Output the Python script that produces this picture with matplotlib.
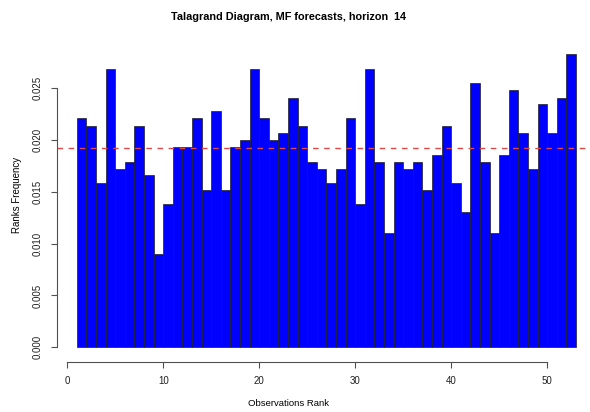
import matplotlib
matplotlib.use("Agg")
import matplotlib.pyplot as plt
import numpy as np

# rank frequencies (ranks 1..52)
ranks = np.arange(1, 53)
freq = [0.0221, 0.0214, 0.0159, 0.0269, 0.0172, 0.0179, 0.0214, 0.0166,
        0.0090, 0.0138, 0.0193, 0.0193, 0.0221, 0.0152, 0.0228, 0.0152,
        0.0193, 0.0200, 0.0269, 0.0221, 0.0200, 0.0207, 0.0241, 0.0214,
        0.0179, 0.0172, 0.0159, 0.0172, 0.0221, 0.0138, 0.0269, 0.0179,
        0.0110, 0.0179, 0.0172, 0.0179, 0.0152, 0.0186, 0.0214, 0.0159,
        0.0131, 0.0255, 0.0179, 0.0110, 0.0186, 0.0248, 0.0207, 0.0172,
        0.0235, 0.0207, 0.0241, 0.0283]
expected = 1.0 / 52
xticks = [0, 10, 20, 30, 40, 50]
yticks = [0.000, 0.005, 0.010, 0.015, 0.020, 0.025]

plt.rcParams['font.family'] = ['Liberation Sans', 'DejaVu Sans']

fig = plt.figure(figsize=(5.9, 4.12), dpi=100)
ax = fig.add_axes([57 / 590, 1 - 362 / 412, 533 / 590, 322 / 412])

ax.bar(ranks, freq, width=1.0, align='edge', color='#0000ff',
       edgecolor='#202020', linewidth=0.5)
ax.axhline(expected, color='#e04848', linestyle=(0, (4, 4)), linewidth=1.0)

ax.set_xlim(-1.073, 54.45)
ax.set_ylim(-0.00142, 0.02966)

for s in ['top', 'right']:
    ax.spines[s].set_visible(False)
ax.spines['left'].set_bounds(0, 0.025)
ax.spines['bottom'].set_bounds(0, 50)
for s in ['left', 'bottom']:
    ax.spines[s].set_color('#505050')
    ax.spines[s].set_linewidth(0.8)

ax.set_xticks(xticks)
ax.set_xticklabels([str(t) for t in xticks], fontsize=7)
ax.set_yticks(yticks)
ax.set_yticklabels(["%.3f" % t for t in yticks], rotation=90, va='center',
                   fontsize=7)
ax.tick_params(axis='both', length=4, width=0.8, color='#505050',
               labelcolor='#202020')
ax.tick_params(axis='x', pad=6)
ax.tick_params(axis='y', pad=6)

fig.text(289 / 590, 1 - 17 / 412, "Talagrand Diagram, MF forecasts, horizon  14",
         ha='center', va='center', fontsize=7.8, fontweight='bold')
fig.text(289 / 590, 1 - 404 / 412, "Observations Rank",
         ha='center', va='center', fontsize=6.8)
fig.text(17 / 590, 1 - 195 / 412, "Ranks Frequency",
         ha='center', va='center', rotation=90, fontsize=7)

fig.savefig("out.png", dpi=100)
